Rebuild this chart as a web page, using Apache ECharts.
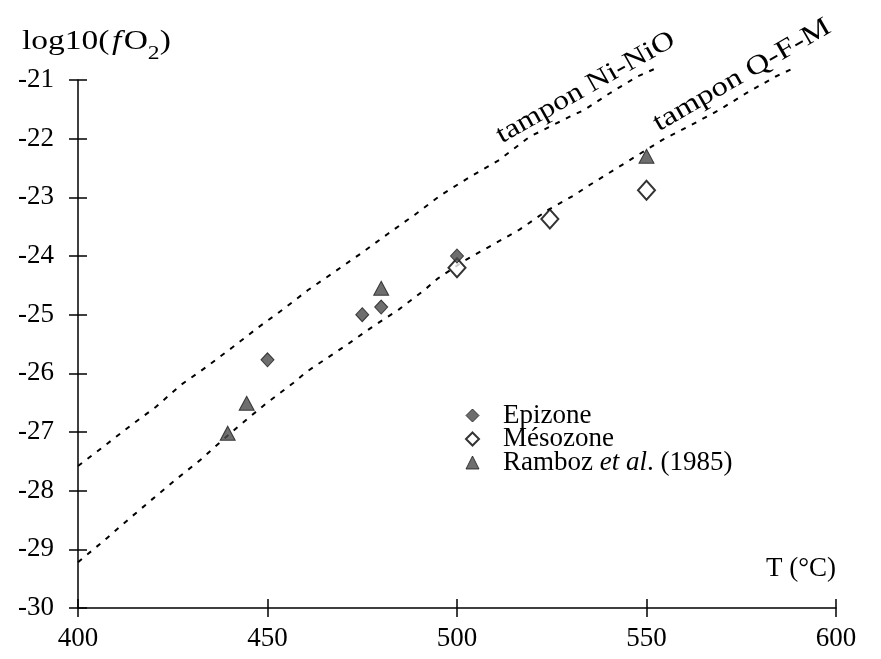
<!DOCTYPE html>
<html>
<head>
<meta charset="utf-8">
<script src="https://cdn.jsdelivr.net/npm/echarts@6/dist/echarts.min.js"></script>
<style>html,body{margin:0;padding:0;background:#fff}#c{width:881px;height:659px}</style>
</head>
<body>
<div id="c"></div>
<script>
// ---- data ----
const xTicks = [400, 450, 500, 550, 600];
const yTicks = [-30, -29, -28, -27, -26, -25, -24, -23, -22, -21];

const niT = [400, 406.7, 413.7, 420.6, 427.1, 433.9, 440.7, 447.5, 454.1, 460.7, 467.7, 474.8, 481.8, 488.8, 495.8, 503.7, 511.2, 519.1, 529.6, 533.6, 540.2, 547.6, 552.5];
const niF = [-27.58, -27.25, -26.9, -26.57, -26.2, -25.89, -25.56, -25.22, -24.91, -24.58, -24.27, -23.95, -23.62, -23.3, -22.96, -22.64, -22.36, -21.97, -21.63, -21.51, -21.23, -20.94, -20.8];

const qfmT = [400, 406.7, 413.3, 419.7, 426.2, 432.8, 435.8, 442.2, 449.7, 456.7, 460.4, 470.8, 477.4, 484.7, 491.4, 495, 502.2, 509.4, 516.5, 523.9, 531, 534.5, 554.2, 561.7, 569.2, 576.2, 584.1, 588.1];
const qfmF = [-29.22, -28.86, -28.49, -28.14, -27.79, -27.45, -27.27, -26.91, -26.51, -26.17, -25.97, -25.52, -25.22, -24.91, -24.58, -24.38, -24.07, -23.81, -23.55, -23.22, -22.96, -22.81, -22.02, -21.77, -21.51, -21.23, -20.94, -20.82];

const epiT = [450, 475, 480, 500];
const epiF = [-25.77, -25.0, -24.87, -24.0];
const mesoT = [500, 524.5, 550];
const mesoF = [-24.2, -23.37, -22.88];
const rambT = [439.5, 444.5, 480, 550];
const rambF = [-27.02, -26.51, -24.55, -22.3];

const seriesNames = ['Epizone', 'Mésozone', 'Ramboz et al. (1985)'];
const lineLabels = ['tampon Ni-NiO', 'tampon Q-F-M'];
const xName = 'T (°C)';

// ---- build ----
const zip = (a, b) => a.map((v, i) => [v, b[i]]);
const FONT = 'Liberation Serif';
const FS = 27;

const chart = echarts.init(document.getElementById('c'), null, {renderer: 'canvas'});

const baseX = {type: 'value', min: 400, max: 600, interval: 50, position: 'bottom'};
const baseY = {type: 'value', min: -30, max: -21, interval: 1, position: 'left'};

const dashed = {color: '#000', width: 2, type: [5, 7]};

chart.setOption({
  backgroundColor: '#fff',
  animation: false,
  grid: {left: 78, right: 45, top: 80, bottom: 51, containLabel: false},
  xAxis: [
    Object.assign({}, baseX, {
      axisLine: {onZero: false, lineStyle: {color: '#000', width: 1.5}},
      axisTick: {inside: false, length: 9, lineStyle: {color: '#000', width: 1.5}},
      axisLabel: {color: '#000', fontFamily: FONT, fontSize: FS, margin: 17},
      splitLine: {show: false},
      name: xName, nameLocation: 'end', nameGap: 0,
      nameTextStyle: {color: '#000', fontFamily: FONT, fontSize: FS, align: 'right', verticalAlign: 'bottom', padding: [0, 0, 26, 0]}
    }),
    Object.assign({}, baseX, {
      axisLine: {show: false, onZero: false},
      axisTick: {inside: true, length: 9, lineStyle: {color: '#000', width: 1.5}},
      axisLabel: {show: false}, splitLine: {show: false}
    })
  ],
  yAxis: [
    Object.assign({}, baseY, {
      axisLine: {show: true, onZero: false, lineStyle: {color: '#000', width: 1.5}},
      axisTick: {show: true, inside: false, length: 9, lineStyle: {color: '#000', width: 1.5}},
      axisLabel: {color: '#000', fontFamily: FONT, fontSize: FS, margin: 24},
      splitLine: {show: false}
    }),
    Object.assign({}, baseY, {
      axisLine: {show: false, onZero: false},
      axisTick: {show: true, inside: true, length: 9, lineStyle: {color: '#000', width: 1.5}},
      axisLabel: {show: false}, splitLine: {show: false}
    })
  ],
  legend: {
    orient: 'vertical', left: 460, top: 397,
    data: [
      {name: seriesNames[0], itemStyle: {color: '#4a4a4a', borderColor: '#1a1a1a', borderWidth: 1}},
      {name: seriesNames[1], itemStyle: {color: '#fff', borderColor: '#000', borderWidth: 2}},
      {name: seriesNames[2], itemStyle: {color: '#4a4a4a', borderColor: '#1a1a1a', borderWidth: 1}}
    ],
    itemWidth: 13, itemHeight: 13, itemGap: -3.5,
    textStyle: {
      color: '#000', fontFamily: FONT, fontSize: FS, lineHeight: 23, padding: [0, 0, 0, 19],
      rich: {
        n: {fontFamily: FONT, fontSize: FS, color: '#000', lineHeight: 23},
        i: {fontFamily: FONT, fontSize: FS, color: '#000', fontStyle: 'italic', lineHeight: 23}
      }
    },
    formatter: function (name) {
      if (name === seriesNames[2]) return '{n|Ramboz }{i|et al}{n|. (1985)}';
      return '{n|' + name + '}';
    }
  },
  series: [
    {type: 'line', name: lineLabels[0], data: zip(niT, niF), showSymbol: false, symbol: 'none', clip: false, lineStyle: dashed, silent: true, z: 1},
    {type: 'line', name: lineLabels[1], data: zip(qfmT, qfmF), showSymbol: false, symbol: 'none', clip: false, lineStyle: dashed, silent: true, z: 1},
    {type: 'scatter', name: seriesNames[1], data: zip(mesoT, mesoF), symbol: 'diamond', symbolSize: [17, 19],
      itemStyle: {color: '#fff', borderColor: '#000', borderWidth: 2}, z: 3},
    {type: 'scatter', name: seriesNames[0], data: zip(epiT, epiF), symbol: 'diamond', symbolSize: [13, 14],
      itemStyle: {color: '#4a4a4a', borderColor: '#1a1a1a', borderWidth: 1}, z: 4},
    {type: 'scatter', name: seriesNames[2], data: zip(rambT, rambF), symbol: 'triangle', symbolSize: [15, 14],
      itemStyle: {color: '#4a4a4a', borderColor: '#1a1a1a', borderWidth: 1}, z: 4}
  ],
  graphic: [
    {
      type: 'text', x: 22, y: 28, scaleX: 1.24, z: 10,
      style: {
        text: '{a|log10(}{i|f}{a|O}{s|2}{a|)}',
        fill: '#000',
        rich: {
          a: {fontFamily: FONT, fontSize: FS, fill: '#000', lineHeight: 32, verticalAlign: 'top'},
          i: {fontFamily: FONT, fontSize: FS, fill: '#000', fontStyle: 'italic', lineHeight: 32, verticalAlign: 'top', padding: [0, 2, 0, 2]},
          s: {fontFamily: FONT, fontSize: 19, fill: '#000', lineHeight: 18, verticalAlign: 'top', padding: [17, 0, 0, 0]}
        }
      }
    },
    {
      type: 'text', x: 505, y: 149, rotation: 29.5 * Math.PI / 180, scaleX: 1.18, z: 10,
      style: {text: lineLabels[0], fontFamily: FONT, fontSize: FS, fill: '#000', textAlign: 'left', textVerticalAlign: 'bottom'}
    },
    {
      type: 'text', x: 662, y: 137, rotation: 30 * Math.PI / 180, scaleX: 1.22, z: 10,
      style: {text: lineLabels[1], fontFamily: FONT, fontSize: FS, fill: '#000', textAlign: 'left', textVerticalAlign: 'bottom'}
    }
  ]
});
</script>
</body>
</html>
